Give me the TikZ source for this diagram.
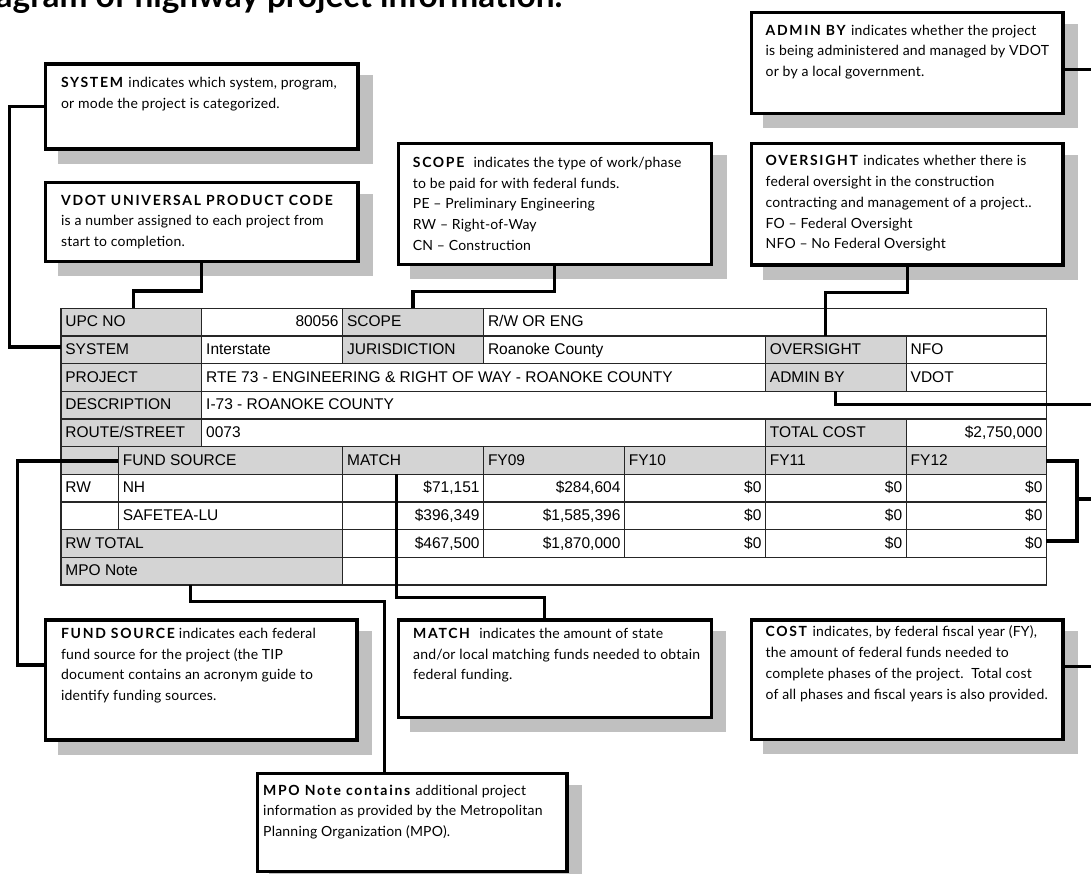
\documentclass[tikz,border=0pt]{standalone}
\usepackage{fontspec}
\setmainfont{Liberation Sans}
\newfontfamily\gillfont[LetterSpace=1.5, BoldFeatures={LetterSpace=12}]{Lato}
\newfontfamily\titlefont{Lato}
\usepackage{tikz}
\usetikzlibrary{shadows,positioning,calc}
\definecolor{cellgray}{HTML}{D4D4D4}
\definecolor{shadowgray}{HTML}{C0C0C0}
\definecolor{gridline}{HTML}{262626}
\newcommand{\topstrut}{\rule{0pt}{12pt}}

\begin{document}
\begin{tikzpicture}[x=1pt, y=-1pt,
        mbox/.style = {draw, line width=3.2pt, fill=white, anchor=north west, inner sep=0pt,
            drop shadow={shadow xshift=13.5pt, shadow yshift=-13pt, fill=shadowgray, draw=shadowgray, line width=3.2pt, opacity=1}},
        mtext/.style = {anchor=north west, inner sep=0pt, align=left, font=\gillfont\fontsize{14}{20.7}\selectfont},
        mcell/.style = {anchor=base west, inner sep=0pt, font=\fontsize{15.5}{18}\selectfont},
        mcellr/.style = {anchor=base east, inner sep=0pt, font=\fontsize{15.5}{18}\selectfont},
        mgrid/.style = {gridline, line width=1.3pt},
        mlink/.style = {line width=3.2pt}
        ]
        \path[use as bounding box, clip] (0,0) rectangle (1091,873);

        \node[anchor=base east, inner sep=0pt, font=\titlefont\bfseries\fontsize{33.4}{36}\selectfont] (title) at (562.5,7.3) {agram of highway project information.};

        % table
        \fill[cellgray] (60.9,308.3) rectangle (201.7,446.6);
        \fill[cellgray] (342.6,308.3) rectangle (483.5,363.6);
        \fill[cellgray] (765.4,336) rectangle (906.2,391.3);
        \fill[cellgray] (765.4,419) rectangle (906.2,446.6);
        \fill[cellgray] (60.9,446.6) rectangle (1046.4,474.3);
        \fill[cellgray] (60.9,529.6) rectangle (342.6,585);
        \foreach \r in {1,...,9}
            \draw[mgrid] (60.9,{308.3+27.67*\r}) -- (1046.4,{308.3+27.67*\r});
        \foreach \r/\xs in {0/{201.7,342.6,483.5}, 1/{201.7,342.6,483.5,765.4,906.2}, 2/{201.7,765.4,906.2},
                3/{201.7}, 4/{201.7,765.4,906.2}, 5/{118.3,342.6,483.5,624.4,765.4,906.2},
                6/{118.3,342.6,483.5,624.4,765.4,906.2}, 7/{118.3,342.6,483.5,624.4,765.4,906.2},
                8/{342.6,483.5,624.4,765.4,906.2}, 9/{342.6}}
            \foreach \x in \xs
                \draw[mgrid] (\x,{308.3+27.67*\r}) -- (\x,{308.3+27.67*(\r+1)});
        \draw[mgrid] (60.9,308.3) rectangle (1046.4,585);

        \node[mcell] (lUPC) at (65.2,326.8) {UPC NO};
        \node[mcellr] (vUPC) at (338.8,326.8) {80056};
        \node[mcell] (lSCOPE) at (346.9,326.8) {SCOPE};
        \node[mcell] (vSCOPE) at (487.8,326.8) {R/W OR ENG};
        \node[mcell] (lSYS) at (65.2,354.5) {SYSTEM};
        \node[mcell] (vSYS) at (206,354.5) {Interstate};
        \node[mcell] (lJUR) at (346.9,354.5) {JURISDICTION};
        \node[mcell] (vJUR) at (487.8,354.5) {Roanoke County};
        \node[mcell] (lOVER) at (769.7,354.5) {OVERSIGHT};
        \node[mcell] (vOVER) at (910.5,354.5) {NFO};
        \node[mcell] (lPROJ) at (65.2,382.1) {PROJECT};
        \node[mcell] (vPROJ) at (206,382.1) {RTE 73 - ENGINEERING \& RIGHT OF WAY - ROANOKE COUNTY};
        \node[mcell] (lADMIN) at (769.7,382.1) {ADMIN BY};
        \node[mcell] (vADMIN) at (910.5,382.1) {VDOT};
        \node[mcell] (lDESC) at (65.2,409.8) {DESCRIPTION};
        \node[mcell] (vDESC) at (206,409.8) {I-73 - ROANOKE COUNTY};
        \node[mcell] (lROUTE) at (65.2,437.5) {ROUTE/STREET};
        \node[mcell] (vROUTE) at (206,437.5) {0073};
        \node[mcell] (lTOTAL) at (769.7,437.5) {TOTAL COST};
        \node[mcellr] (vTOTAL) at (1042.6,437.5) {\$2,750,000};
        \foreach \x/\t [count=\c] in {122.6/FUND SOURCE, 346.9/MATCH, 487.8/FY09, 628.7/FY10, 769.7/FY11, 910.5/FY12}
            \node[mcell] (head\c) at (\x,465.1) {\t};
        \node[mcell] (lRW) at (65.2,492.8) {RW};
        \node[mcell] (lNH) at (122.6,492.8) {NH};
        \node[mcellr] (mNH) at (479.7,492.8) {\$71,151};
        \node[mcellr] (fNH) at (620.6,492.8) {\$284,604};
        \node[mcell] (lSAFE) at (122.6,520.5) {SAFETEA-LU};
        \node[mcellr] (mSAFE) at (479.7,520.5) {\$396,349};
        \node[mcellr] (fSAFE) at (620.6,520.5) {\$1,585,396};
        \node[mcell] (lRWT) at (65.2,548.1) {RW TOTAL};
        \node[mcellr] (mRWT) at (479.7,548.1) {\$467,500};
        \node[mcellr] (fRWT) at (620.6,548.1) {\$1,870,000};
        \foreach \y [count=\r] in {492.8,520.5,548.1}
            \foreach \x [count=\c] in {761.6,902.4,1042.6}
                \node[mcellr] (zero\r\c) at (\x,\y) {\$0};
        \node[mcell] (lMPO) at (65.2,575.8) {MPO Note};

        \coordinate (tSYS) at (60.9,347);
        \coordinate (tUPC) at (133.2,308.3);
        \coordinate (tSCOPE) at (412.9,308.3);
        \coordinate (tOVER) at (825.3,336);
        \coordinate (tADMIN) at (835.7,391.3);
        \coordinate (tFUND) at (118.3,461);
        \coordinate (tMATCH) at (396.7,474.3);
        \coordinate (tMPO) at (190.6,585);
        \coordinate (tFYtop) at (1046.4,461);
        \coordinate (tFYbot) at (1046.4,541);
        \coordinate (adminturn) at (1100,404.3);
        \coordinate (costturn) at (1100,499);
        \coordinate (costbrk) at (1077,499);

        % callouts
        \node[mbox, minimum width=312.3pt, minimum height=85.1pt] (sysbox) at (44,62.3) {};
        \node[mbox, minimum width=312.3pt, minimum height=79.5pt] (upcbox) at (44,180.6) {};
        \node[mbox, minimum width=313.3pt, minimum height=121.1pt] (scopebox) at (396.6,141.6) {};
        \node[mbox, minimum width=311.8pt, minimum height=101.1pt] (adminbox) at (749.6,10.6) {};
        \node[mbox, minimum width=311.8pt, minimum height=121.8pt] (overbox) at (749.6,141.6) {};
        \node[mbox, minimum width=311.4pt, minimum height=120.1pt] (fundbox) at (44,618.3) {};
        \node[mbox, minimum width=313pt, minimum height=97.4pt] (matchbox) at (396.6,618.3) {};
        \node[mbox, minimum width=311.8pt, minimum height=119.4pt] (costbox) at (749.6,618.3) {};
        \node[mbox, minimum width=309.8pt, minimum height=98.5pt] (mpobox) at (255.6,771.6) {};

        \node[mtext] (systext) at (60.9,75.3) {\topstrut\textbf{SYSTEM} indicates which system, program,\\ or mode the project is categorized.};
        \node[mtext] (upctext) at (60.9,193) {\topstrut\textbf{VDOT UNIVERSAL PRODUCT CODE}\\ is a number assigned to each project from\\ start to completion.};
        \node[mtext] (scopetext) at (412.7,155.3) {\topstrut\textbf{SCOPE}\ \ indicates the type of work/phase\\ to be paid for with federal funds.\\ PE – Preliminary Engineering\\ RW – Right-of-Way\\ CN – Construction};
        \node[mtext] (admintext) at (765.4,23) {\topstrut\textbf{ADMIN BY} indicates whether the project\\ is being administered and managed by VDOT\\ or by a local government.};
        \node[mtext] (overtext) at (765.4,153.7) {\topstrut\textbf{OVERSIGHT} indicates whether there is\\ federal oversight in the construction\\ contracting and management of a project..\\ FO – Federal Oversight\\ NFO – No Federal Oversight};
        \node[mtext] (fundtext) at (60.9,626.3) {\topstrut\textbf{FUND SOURCE}\,indicates each federal\\ fund source for the project (the TIP\\ document contains an acronym guide to\\ identify funding sources.};
        \node[mtext] (matchtext) at (413,626.3) {\topstrut\textbf{MATCH}\ \ indicates the amount of state\\ and/or local matching funds needed to obtain\\ federal funding.};
        \node[mtext] (costtext) at (765.4,624.7) {\topstrut\textbf{COST} indicates, by federal fiscal year (FY),\\ the amount of federal funds needed to\\ complete phases of the project.\ \ Total cost\\ of all phases and fiscal years is also provided.};
        \node[mtext] (mpotext) at (263,783) {\topstrut\textbf{MPO Note contains} additional project\\ information as provided by the Metropolitan\\ Planning Organization (MPO).};

        % connectors
        \draw[mlink] (sysbox.west) -- ++(-34.8,0) |- (tSYS);
        \draw[mlink] (upcbox.south) -- ++(0,27.6) -| (tUPC);
        \draw[mlink] (scopebox.south) -- ++(0,25.7) -| (tSCOPE);
        \draw[mlink] (overbox.south) -- ++(0,25.7) -| (tOVER);
        \draw[mlink] ([yshift=-6.5pt]adminbox.east) -| (adminturn) -| (tADMIN);
        \draw[mlink] (tFYtop) -| (costbrk) |- (tFYbot);
        \draw[mlink] ([yshift=13pt]costbox.east) -| (costturn) -- (costbrk);
        \draw[mlink] (tFUND) -- ++(-100.9,0) |- ([yshift=15pt]fundbox.west);
        \draw[mlink] (tMATCH) -- ++(0,123.4) -| ([xshift=-10.5pt]matchbox.north);
        \draw[mlink] (tMPO) -- ++(0,16.7) -| ([xshift=-27.3pt]mpobox.north);
    \end{tikzpicture}
\end{document}
